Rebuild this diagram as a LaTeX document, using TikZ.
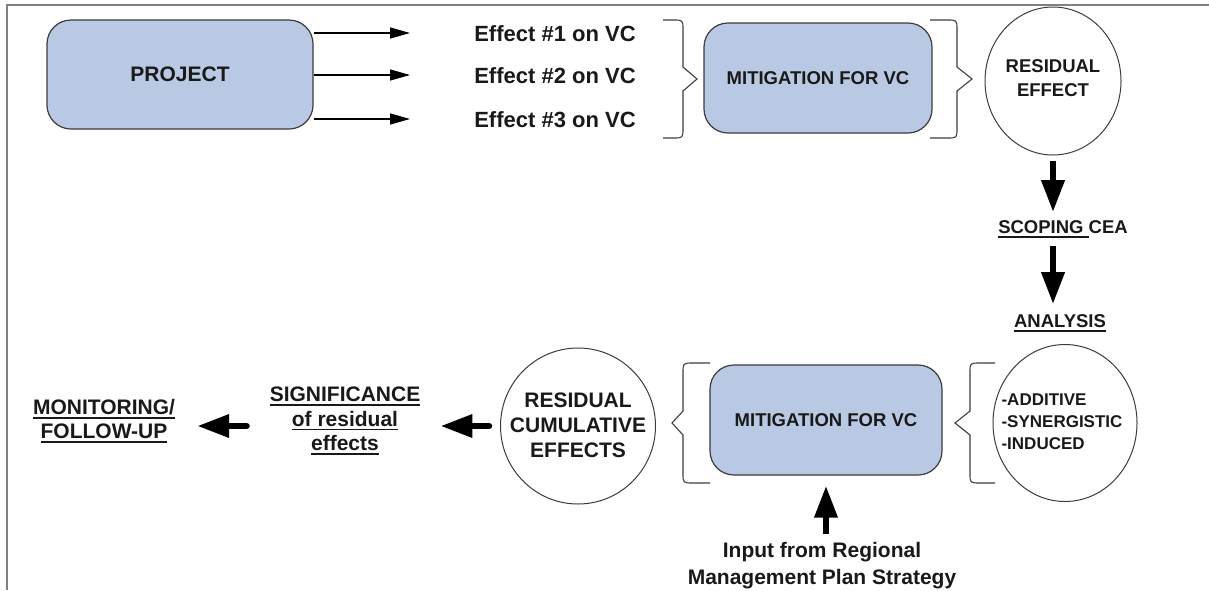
\documentclass[tikz,border=0pt]{standalone}
\usepackage{fontspec}
\setmainfont{Liberation Sans}
\usetikzlibrary{arrows.meta,positioning,shapes.geometric}

\definecolor{vcblue}{RGB}{185,201,227}
\definecolor{vcline}{RGB}{60,60,60}
\definecolor{vctext}{RGB}{25,25,25}

% thick underline kept under the text's baseline
\newcommand{\vcul}[1]{\leavevmode\vtop{\hbox{#1}\kern2.5pt\hrule height 1.6pt}}

\tikzset{
  vcbox/.style={draw=vcline, line width=1.2pt, fill=vcblue, rounded corners=24pt,
    minimum width=228pt, minimum height=110pt, text=vctext,
    font=\bfseries\fontsize{18.5}{22}\selectfont},
  vccircle/.style={ellipse, draw=vcline, line width=1pt, inner sep=0pt},
  vclabel/.style={inner sep=0pt, align=center, text=vctext,
    font=\bfseries\fontsize{21}{24.5}\selectfont},
  thinarrow/.style={line width=1.3pt, -{Triangle[length=20pt,width=11pt]}},
  blockarrow/.style={line width=6.5pt, -{Triangle[length=32pt,width=22pt]}},
  bracket/.style={draw=vcline, line width=1.1pt},
}

% hook end x, vertical x, tip x, top y, bottom y
\newcommand{\vcbrace}[5]{%
  \draw[bracket] (#1,#4) -- ({#2+10*sign(#1-#2)},#4) .. controls (#2,#4) .. (#2,{#4+10})
    -- (#2,{(#4+#5)/2-12}) -- (#3,{(#4+#5)/2}) -- (#2,{(#4+#5)/2+12})
    -- (#2,{#5-10}) .. controls (#2,#5) .. ({#2+10*sign(#1-#2)},#5) -- (#1,#5);}

\begin{document}
\begin{tikzpicture}[x=1pt,y=-1pt]
  \useasboundingbox (0,0) rectangle (1209,590);
  \draw[gray, line width=1.2pt] (1209,5) -- (7,5) -- (7,590);

  % project and its effects
  \node[vcbox, minimum width=266pt, minimum height=109pt,
    font=\bfseries\fontsize{21}{24}\selectfont] (project) at (180,74.5) {PROJECT};
  \foreach \i/\y in {1/34,2/76,3/120} {
    \node[vclabel, font=\bfseries\fontsize{22}{26}\selectfont] (eff\i) at (555,\y) {Effect \#\i{} on VC};
    \coordinate (tip\i) at (410,\y-1);
    \draw[thinarrow] (project.east |- tip\i) -- (tip\i);
  }
  \vcbrace{663}{683}{697}{20}{138}
  \node[vcbox] (mitone) at (818,78) {MITIGATION FOR VC};
  \vcbrace{930}{957}{972}{20}{138}
  \node[vccircle, minimum width=136pt, minimum height=148pt] (resid) at (1053,81) {};
  \node[vclabel, font=\bfseries\fontsize{18.5}{24}\selectfont] (residtxt) at (1053,78) {RESIDUAL\\EFFECT};

  % cumulative effects assessment
  \node[vclabel, font=\bfseries\fontsize{18.5}{22}\selectfont] (scoping) at (1063,229) {\vcul{SCOPING\ }CEA};
  \node[vclabel, font=\bfseries\fontsize{18.5}{22}\selectfont] (analysis) at (1060,323) {\vcul{ANALYSIS}};
  \draw[blockarrow, shorten <=5pt, shorten >=8pt] (resid.south) -- (resid.south |- scoping.north);
  \draw[blockarrow, shorten <=8pt, shorten >=10pt] (resid.south |- scoping.south) -- (resid.south |- analysis.north);

  \node[vccircle, minimum width=144pt, minimum height=157pt] (kinds) at (1065,423) {};
  \node[vclabel, align=left, font=\bfseries\fontsize{17}{22}\selectfont] (kindstxt) at (1062,422) {-ADDITIVE\\-SYNERGISTIC\\-INDUCED};
  \vcbrace{995}{970}{955}{363}{483}
  \node[vcbox, minimum width=232pt] (mittwo) at (826,420) {MITIGATION FOR VC};
  \vcbrace{710}{683}{672}{363}{483}
  \node[vclabel, font=\bfseries\fontsize{21}{27}\selectfont] (input) at (822,566) {Input from Regional\\Management Plan Strategy};
  \draw[blockarrow, shorten <=8pt, shorten >=10pt] (mittwo.south |- input.north) -- (mittwo.south);

  % residual cumulative effects
  \node[vccircle, minimum width=155pt, minimum height=156pt] (cumul) at (578,426) {};
  \node[vclabel, font=\bfseries\fontsize{21}{25}\selectfont] (cumultxt) at (578,425) {RESIDUAL\\CUMULATIVE\\EFFECTS};
  \node[vclabel] (signif) at (345,421) {\vcul{SIGNIFICANCE}\\\vcul{of residual}\\\vcul{effects}};
  \node[vclabel] (monitor) at (104,421) {\vcul{MONITORING/}\\\vcul{FOLLOW-UP}};
  \draw[blockarrow, line cap=round, shorten <=11pt, shorten >=20pt] (cumul.west) -- (cumul.west -| signif.east);
  \draw[blockarrow, line cap=round, shorten <=23pt, shorten >=22pt] (signif.west |- cumul.west) -- (cumul.west -| monitor.east);
\end{tikzpicture}
\end{document}
